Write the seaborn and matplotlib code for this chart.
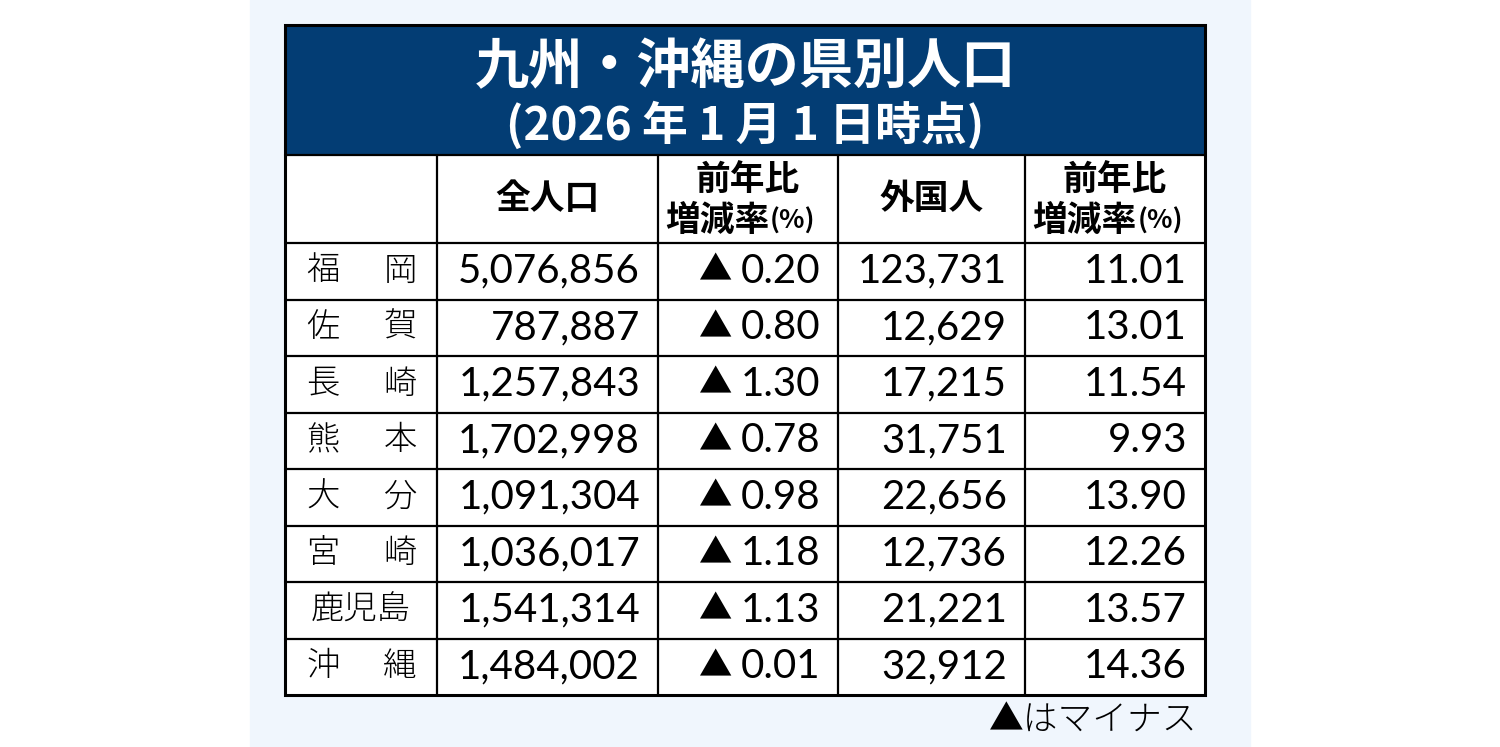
import matplotlib
matplotlib.use("Agg")
import matplotlib.pyplot as plt
from matplotlib.patches import Rectangle
import seaborn as sns

# --- data ---
prefectures = ["福岡", "佐賀", "長崎", "熊本", "大分", "宮崎", "鹿児島", "沖縄"]
population = [5076856, 787887, 1257843, 1702998, 1091304, 1036017, 1541314, 1484002]
pop_change = [-0.20, -0.80, -1.30, -0.78, -0.98, -1.18, -1.13, -0.01]
foreigners = [123731, 12629, 17215, 31751, 22656, 12736, 21221, 32912]
foreign_change = [11.01, 13.01, 11.54, 9.93, 13.90, 12.26, 13.57, 14.36]

title = "九州・沖縄の県別人口"
subtitle = "(2026 年 1 月 1 日時点)"
note = "▲はマイナス"

sns.set_theme(style="white")
JP = ["Noto Sans CJK JP", "DejaVu Sans"]
NUM = ["Lato", "Noto Sans CJK JP", "DejaVu Sans"]
plt.rcParams["font.family"] = JP
plt.rcParams["text.color"] = "black"

NAVY = "#033d74"
PANEL = "#f0f6fd"

# layout (pixels)
col_edges = [285, 437, 658, 838, 1025, 1205]
top, head_bottom, row_top, bottom = 25, 155, 243, 695
row_h = (bottom - row_top) / len(prefectures)

fig = plt.figure(figsize=(15, 7.47), dpi=100)
ax = fig.add_axes([0, 0, 1, 1])
ax.set_xlim(0, 1500)
ax.set_ylim(747, 0)
ax.axis("off")

ax.add_patch(Rectangle((250, 0), 1000, 747, color=PANEL, zorder=0))
ax.add_patch(Rectangle((col_edges[0], head_bottom), col_edges[-1] - col_edges[0],
                       bottom - head_bottom, facecolor="white", edgecolor="none", zorder=1))
ax.add_patch(Rectangle((col_edges[0], top), col_edges[-1] - col_edges[0],
                       head_bottom - top, facecolor=NAVY, edgecolor="none", zorder=2))

# title block
mid = (col_edges[0] + col_edges[-1]) / 2
ax.text(mid, 68, title, color="white", fontsize=39, fontweight="bold",
        ha="center", va="center", zorder=3)
ax.text(mid, 126, subtitle, color="white", fontsize=33, fontweight="bold",
        ha="center", va="center", zorder=3)

# grid lines
for y in [row_top + row_h * i for i in range(len(prefectures))] + [head_bottom]:
    ax.plot([col_edges[0], col_edges[-1]], [y, y], color="black", lw=1.6, zorder=4)
for x in col_edges[1:-1]:
    ax.plot([x, x], [head_bottom, bottom], color="black", lw=1.6, zorder=4)
ax.add_patch(Rectangle((col_edges[0], top), col_edges[-1] - col_edges[0], bottom - top,
                       facecolor="none", edgecolor="black", lw=2.2, zorder=5))

# column headers
hy = (head_bottom + row_top) / 2
centers = [(col_edges[i] + col_edges[i + 1]) / 2 for i in range(5)]
ax.text(centers[1], hy, "全人口", fontsize=25, fontweight="bold", ha="center", va="center", zorder=6)
ax.text(centers[3], hy, "外国人", fontsize=25, fontweight="bold", ha="center", va="center", zorder=6)
for c in (centers[2], centers[4]):
    ax.text(c, hy - 19, "前年比", fontsize=25, fontweight="bold", ha="center", va="center", zorder=6)
    ax.text(c - 31, hy + 21, "増減率", fontsize=25, fontweight="bold", ha="center", va="center", zorder=6)
    ax.text(c + 45, hy + 22, "(%)", fontsize=19, fontweight="bold", ha="center", va="center", zorder=6)

# body
pad = 18
for i, name in enumerate(prefectures):
    cy = row_top + row_h * (i + 0.5)
    if len(name) == 2:
        ax.text(323, cy, name[0], fontsize=24, fontweight="light", ha="center", va="center", zorder=6)
        ax.text(400, cy, name[1], fontsize=24, fontweight="light", ha="center", va="center", zorder=6)
    else:
        ax.text(centers[0], cy, name, fontsize=24, fontweight="light", ha="center", va="center", zorder=6)

    ax.text(col_edges[2] - pad, cy, f"{population[i]:,}", fontsize=29, family=NUM,
            ha="right", va="center", zorder=6)
    v = pop_change[i]
    ax.text(col_edges[3] - pad, cy, f"{abs(v):.2f}", fontsize=29, family=NUM,
            ha="right", va="center", zorder=6)
    if v < 0:
        ax.text(col_edges[3] - pad - 88, cy, "▲", fontsize=24, family=JP,
                ha="right", va="center", zorder=6)
    ax.text(col_edges[4] - pad, cy, f"{foreigners[i]:,}", fontsize=29, family=NUM,
            ha="right", va="center", zorder=6)
    ax.text(col_edges[5] - pad, cy, f"{foreign_change[i]:.2f}", fontsize=29, family=NUM,
            ha="right", va="center", zorder=6)

ax.text(col_edges[-1] - 8, 720, note, fontsize=25, fontweight="light",
        ha="right", va="center", zorder=6)

fig.savefig("out.png", dpi=100, facecolor="white")
